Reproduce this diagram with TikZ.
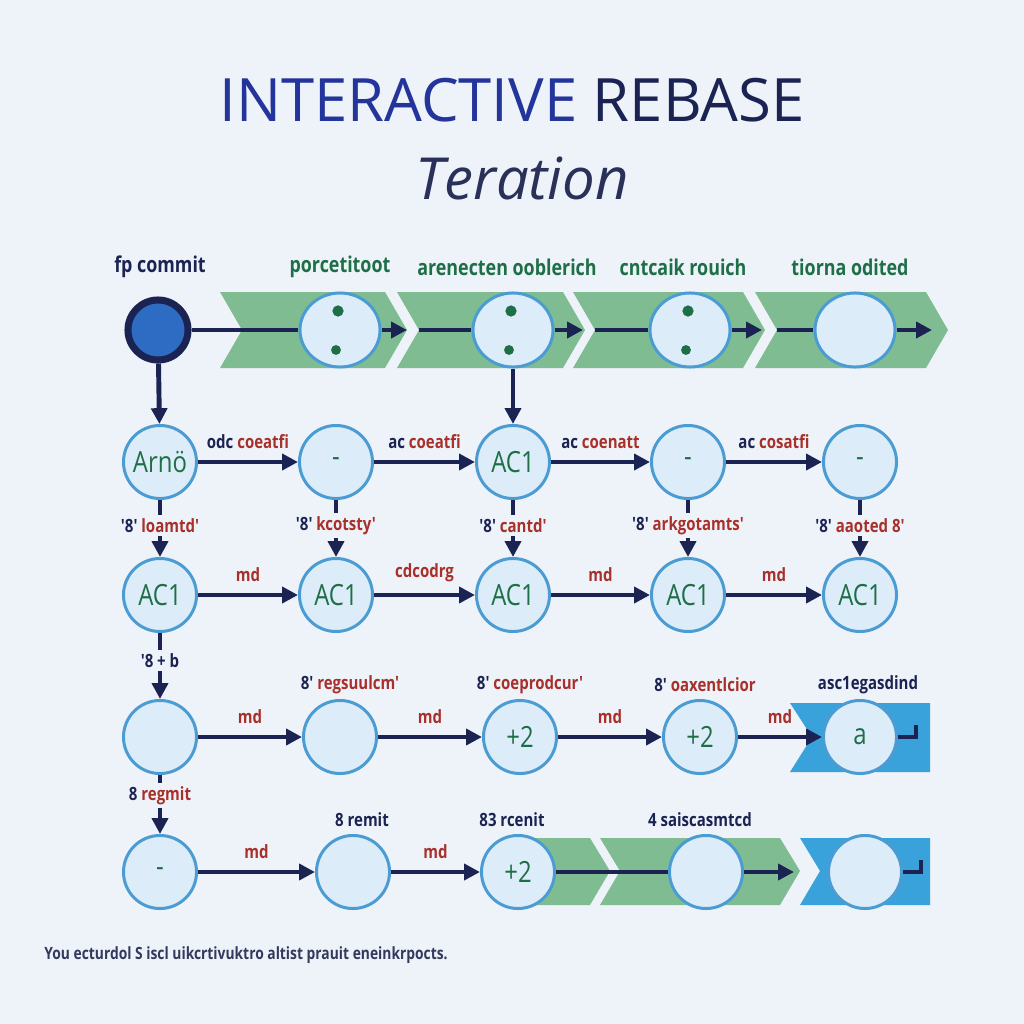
\documentclass[tikz,border=0pt]{standalone}
\usepackage{fontspec}
\setmainfont{Open Sans}
\newfontfamily\condfont[FakeStretch=0.82]{Open Sans}
\usetikzlibrary{arrows.meta,shapes.geometric}
\definecolor{bg}{HTML}{EEF3FA}
\definecolor{navy}{HTML}{1B2352}
\definecolor{titleblue}{HTML}{23349A}
\definecolor{ring}{HTML}{4A9CD2}
\definecolor{cfill}{HTML}{DDECF9}
\definecolor{band}{HTML}{80BC92}
\definecolor{boxblue}{HTML}{3AA2DA}
\definecolor{lblred}{HTML}{A8302A}
\definecolor{lblgreen}{HTML}{1E6E46}
\definecolor{headblue}{HTML}{2E6CC4}
\begin{document}
\begin{tikzpicture}[x=0.01cm,y=-0.01cm,>={Triangle[length=4.5pt,width=4.5pt]},
  commit/.style={circle,draw=ring,fill=cfill,line width=0.85pt,minimum size=0.73cm,inner sep=0pt,
    font=\condfont\fontsize{8.3}{9}\selectfont,text=lblgreen},
  wide/.style={commit,ellipse,minimum width=0.8cm,minimum height=0.74cm},
  link/.style={draw=navy,line width=1.4pt},
  tag/.style={font=\condfont\bfseries\fontsize{5.2}{6}\selectfont,text=lblred,inner sep=1pt},
  coltitle/.style={font=\condfont\bfseries\fontsize{6.2}{7}\selectfont,text=lblgreen}]
\fill[bg] (0,0) rectangle (1024,1024);
\useasboundingbox (0,0) rectangle (1024,1024);

% title
\node[font=\fontsize{17}{20}\selectfont] (title) at (512,100) {{\color{titleblue}INTERACTIVE} {\color{navy}REBASE}};
\node[font=\itshape\fontsize{16.5}{19}\selectfont,text=navy!85!gray] (sub) at (522,178) {Teration};

% green band and blue boxes
\fill[band] (220,292) -- (385,292) -- (407,330) -- (385,368) -- (220,368) -- (242,330) -- cycle;
\fill[band] (397,292) -- (563,292) -- (585,330) -- (563,368) -- (397,368) -- (419,330) -- cycle;
\fill[band] (573,292) -- (743,292) -- (765,330) -- (743,368) -- (573,368) -- (595,330) -- cycle;
\fill[band] (755,292) -- (926,292) -- (948,330) -- (926,368) -- (755,368) -- (777,330) -- cycle;
\fill[boxblue] (790,703) -- (930,703) -- (930,772) -- (790,772) -- (812,737) -- cycle;
\fill[band] (520,838) -- (590,838) -- (610,871) -- (590,905) -- (520,905) -- cycle;
\fill[band] (600,838) -- (780,838) -- (800,871) -- (780,905) -- (600,905) -- (620,871) -- cycle;
\fill[boxblue] (800,838) -- (930,838) -- (930,905) -- (800,905) -- (820,871) -- cycle;

% column titles
\node[coltitle,text=navy] (h1) at (160,267) {fp commit};
\node[coltitle] (h2) at (340,267) {porcetitoot};
\node[coltitle] (h3) at (507,267) {arenecten ooblerich};
\node[coltitle] (h4) at (683,267) {cntcaik rouich};
\node[coltitle] (h5) at (850,267) {tiorna odited};

% row 0
\node[circle,draw=navy,fill=headblue,line width=2pt,minimum size=0.6cm] (head) at (158,330) {};
\node[wide] (e1) at (340,330) {};
\node[wide] (e2) at (513,330) {};
\node[wide] (e3) at (690,330) {};
\node[wide] (e4) at (855,330) {};
\foreach \x in {338,511,688} {
  \fill[lblgreen] (\x,311) circle (1.6pt);
  \fill[lblgreen] (\x-2,350) circle (1.4pt);
}
\coordinate (p1) at (407,330); \coordinate (q1) at (419,330);
\coordinate (p2) at (583,330); \coordinate (q2) at (595,330);
\coordinate (p3) at (762,330); \coordinate (q3) at (777,330);
\coordinate (p4) at (932,330);

% row 1
\node[commit] (c11) at (160,462) {Arnö};
\node[commit] (c12) at (336,462) {-};
\node[commit] (c13) at (513,462) {AC1};
\node[commit] (c14) at (688,462) {-};
\node[commit] (c15) at (860,462) {-};

% row 2
\node[commit] (c21) at (160,595) {AC1};
\node[commit] (c22) at (336,595) {AC1};
\node[commit] (c23) at (513,595) {AC1};
\node[commit] (c24) at (688,595) {AC1};
\node[commit] (c25) at (860,595) {AC1};

% row 3
\node[commit] (c31) at (160,737) {};
\node[commit] (c32) at (340,737) {};
\node[commit] (c33) at (520,737) {+2};
\node[commit] (c34) at (700,737) {+2};
\node[commit] (c35) at (860,737) {a};
\node[tag] (t32) at (350,685) {{\color{navy}8'} regsuulcm'};
\node[tag] (t33) at (530,685) {{\color{navy}8'} coeprodcur'};
\node[tag] (t34) at (705,685) {{\color{navy}8'} oaxentlcior};
\node[tag,text=navy] (t35) at (868,685) {asc1egasdind};

% row 4
\node[commit] (c41) at (160,872) {-};
\node[commit] (c42) at (353,872) {};
\node[commit] (c43) at (518,872) {+2};
\node[commit] (c44) at (706,872) {};
\node[commit] (c45) at (865,872) {};
\node[tag,text=navy] (t42) at (362,820) {8 remit};
\node[tag,text=navy] (t43) at (512,820) {83 rcenit};
\node[tag,text=navy] (t44) at (700,820) {4 saiscasmtcd};

% connectors
\draw[link] (head) -- (e1);
\draw[link,->] (e1) -- (p1);
\draw[link] (q1) -- (e2);
\draw[link,->] (e2) -- (p2);
\draw[link] (q2) -- (e3);
\draw[link,->] (e3) -- (p3);
\draw[link] (q3) -- (e4);
\draw[link,->] (e4) -- (p4);
\draw[link,->] (head) -- (c11);
\draw[link,->] (e2) -- (c13);

\draw[link,->] (c11) -- node[tag,above=2pt] {{\color{navy}odc} coeatfi} (c12);
\draw[link,->] (c12) -- node[tag,above=2pt] {{\color{navy}ac} coeatfi} (c13);
\draw[link,->] (c13) -- node[tag,above=2pt] {{\color{navy}ac} coenatt} (c14);
\draw[link,->] (c14) -- node[tag,above=2pt] {{\color{navy}ac} cosatfi} (c15);

\draw[link,->] (c11) -- node[tag,fill=bg,pos=0.45] {{\color{navy}'8'} loamtd'} (c21);
\draw[link,->] (c12) -- node[tag,fill=bg,pos=0.45] {{\color{navy}'8'} kcotsty'} (c22);
\draw[link,->] (c13) -- node[tag,fill=bg,pos=0.45] {{\color{navy}'8'} cantd'} (c23);
\draw[link,->] (c14) -- node[tag,fill=bg,pos=0.45] {{\color{navy}'8'} arkgotamts'} (c24);
\draw[link,->] (c15) -- node[tag,fill=bg,pos=0.45] {{\color{navy}'8'} aaoted 8'} (c25);

\draw[link,->] (c21) -- node[tag,above=2pt] {md} (c22);
\draw[link,->] (c22) -- node[tag,above=2pt] {cdcodrg} (c23);
\draw[link,->] (c23) -- node[tag,above=2pt] {md} (c24);
\draw[link,->] (c24) -- node[tag,above=2pt] {md} (c25);

\draw[link,->] (c21) -- node[tag,fill=bg,pos=0.42] {\color{navy}'8 + b} (c31);
\draw[link,->] (c31) -- node[tag,above=2pt] {md} (c32);
\draw[link,->] (c32) -- node[tag,above=2pt] {md} (c33);
\draw[link,->] (c33) -- node[tag,above=2pt] {md} (c34);
\draw[link,->] (c34) -- node[tag,above=2pt] {md} (c35);
\draw[link] (c35.east) -- ++(18,0) -- ++(0,-12);

\draw[link,->] (c31) -- node[tag,fill=bg,pos=0.35] {{\color{navy}8} regmit} (c41);
\draw[link,->] (c41) -- node[tag,above=2pt] {md} (c42);
\draw[link,->] (c42) -- node[tag,above=2pt] {md} (c43);
\draw[link] (c43) -- (c44);
\draw[link,->] (c44) -- ++(88,0);
\draw[link] (c45.east) -- ++(18,0) -- ++(0,-12);

% footnote
\node[anchor=west,font=\condfont\bfseries\fontsize{4.8}{5}\selectfont,text=navy!75!gray] (note) at (32,955)
  {You ecturdol S iscl uikcrtivuktro altist prauit eneinkrpocts.};
\end{tikzpicture}
\end{document}
